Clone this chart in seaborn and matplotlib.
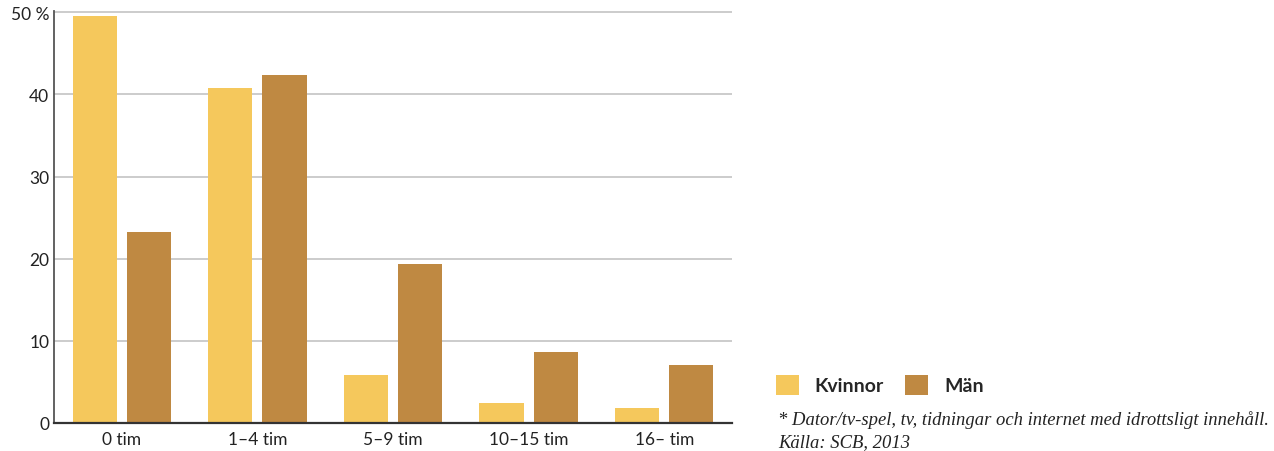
import matplotlib
matplotlib.use("Agg")
import matplotlib.pyplot as plt
import pandas as pd
import seaborn as sns

# data
categories = ["0 tim", "1–4 tim", "5–9 tim", "10–15 tim", "16– tim"]
kvinnor = [49.6, 40.8, 5.8, 2.4, 1.8]
man = [23.2, 42.4, 19.4, 8.7, 7.0]
y_ticks = [0, 10, 20, 30, 40, 50]
y_labels = ["0", "10", "20", "30", "40", "50 %"]

df = pd.DataFrame({
    "kategori": categories * 2,
    "andel": kvinnor + man,
    "kon": ["Kvinnor"] * len(categories) + ["Män"] * len(categories),
})

sns.set_theme(style="white")
plt.rcParams["font.family"] = ["Lato", "DejaVu Sans"]

W, H = 1274, 452
fig = plt.figure(figsize=(W / 100, H / 100), dpi=100)
ax = fig.add_axes([54 / W, 28 / H, 678 / W, 412 / H])

sns.barplot(data=df, x="kategori", y="andel", hue="kon",
            palette={"Kvinnor": "#F5C85C", "Män": "#BF8942"},
            width=0.8, gap=0.185, saturation=1, linewidth=0, ax=ax, legend=True)

ax.set_xlim(-0.5, 4.5)
ax.set_ylim(0, 50.15)
ax.set_yticks(y_ticks)
ax.set_yticklabels(y_labels)
ax.yaxis.grid(True, color="#c8c8c8", linewidth=1.3)
ax.set_axisbelow(True)
ax.set_xlabel("")
ax.set_ylabel("")
ax.tick_params(axis="both", length=0, labelsize=12.5, colors="#222222")
ax.tick_params(axis="x", pad=6)
for s in ["top", "right"]:
    ax.spines[s].set_visible(False)
ax.spines["left"].set_color("#555555")
ax.spines["left"].set_linewidth(1.3)
ax.spines["bottom"].set_color("#333333")
ax.spines["bottom"].set_linewidth(1.6)

handles, labels = ax.get_legend_handles_labels()
ax.legend_.remove()
fig.legend(handles, labels, loc="lower left", bbox_to_anchor=(758 / W, 39 / H),
           ncol=2, frameon=False, handlelength=1.2, handleheight=1.2,
           handletextpad=0.8, columnspacing=1.1,
           prop={"weight": "bold", "size": 14})

fig.text(778 / W, 1 - 420 / H, "* Dator/tv-spel, tv, tidningar och internet med idrottsligt innehåll.",
         family="Liberation Serif", style="italic", fontsize=13.4, color="#222222",
         va="center", ha="left")
fig.text(778 / W, 1 - 443 / H, "Källa: SCB, 2013",
         family="Liberation Serif", style="italic", fontsize=13.4, color="#222222",
         va="center", ha="left")

fig.savefig("out.png", dpi=100)
